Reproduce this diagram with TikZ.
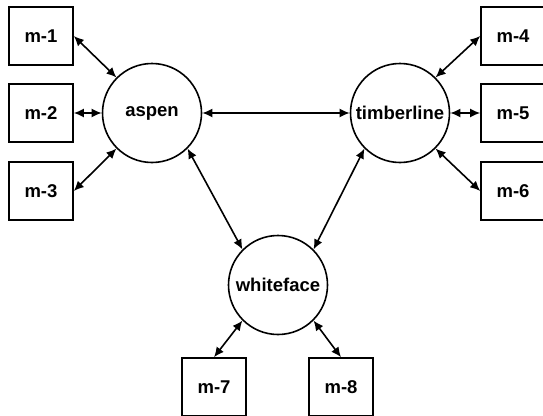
\documentclass[tikz,border=0pt]{standalone}
\usepackage{fontspec}
\setmainfont{Liberation Sans}
\usetikzlibrary{arrows.meta}
\tikzset{
  mbox/.style={rectangle, draw, line width=1.6pt, minimum width=64pt,
               minimum height=58pt, inner sep=0pt, font=\fontsize{18.5}{22}\selectfont\bfseries},
  site/.style={circle, draw, line width=1.6pt, minimum size=99pt, inner sep=0pt,
               font=\fontsize{18.5}{22}\selectfont\bfseries},
  link/.style={{Latex[length=10pt,width=9pt]}-{Latex[length=10pt,width=9pt]}, line width=1.6pt}
}
\begin{document}
\begin{tikzpicture}[x=1pt, y=-1pt]
  \useasboundingbox (0,0) rectangle (543,415);
  % sites
  \node[site] (aspen)      at (152,113) {aspen};
  \node[site] (timberline) at (400,113) {timberline};
  \node[site] (whiteface)  at (278,285) {whiteface};
  % machines
  \node[mbox] (m1) at (41,36)   {m-1};
  \node[mbox] (m2) at (41,113)  {m-2};
  \node[mbox] (m3) at (41,191)  {m-3};
  \node[mbox] (m4) at (513,36)  {m-4};
  \node[mbox] (m5) at (513,113) {m-5};
  \node[mbox] (m6) at (513,191) {m-6};
  \node[mbox] (m7) at (214,387) {m-7};
  \node[mbox] (m8) at (341,387) {m-8};
  % links
  \draw[link] (aspen) -- (timberline);
  \draw[link] (aspen.-45) -- (whiteface.135);
  \draw[link] (timberline.225) -- (whiteface.45);
  \draw[link] (m1.east) -- (aspen.135);
  \draw[link] (m2.east) -- (aspen.west);
  \draw[link] (m3.east) -- (aspen.225);
  \draw[link] (m4.west) -- (timberline.45);
  \draw[link] (m5.west) -- (timberline.east);
  \draw[link] (m6.west) -- (timberline.-45);
  \draw[link] (m7.north) -- (whiteface.225);
  \draw[link] (m8.north) -- (whiteface.-45);
\end{tikzpicture}
\end{document}
